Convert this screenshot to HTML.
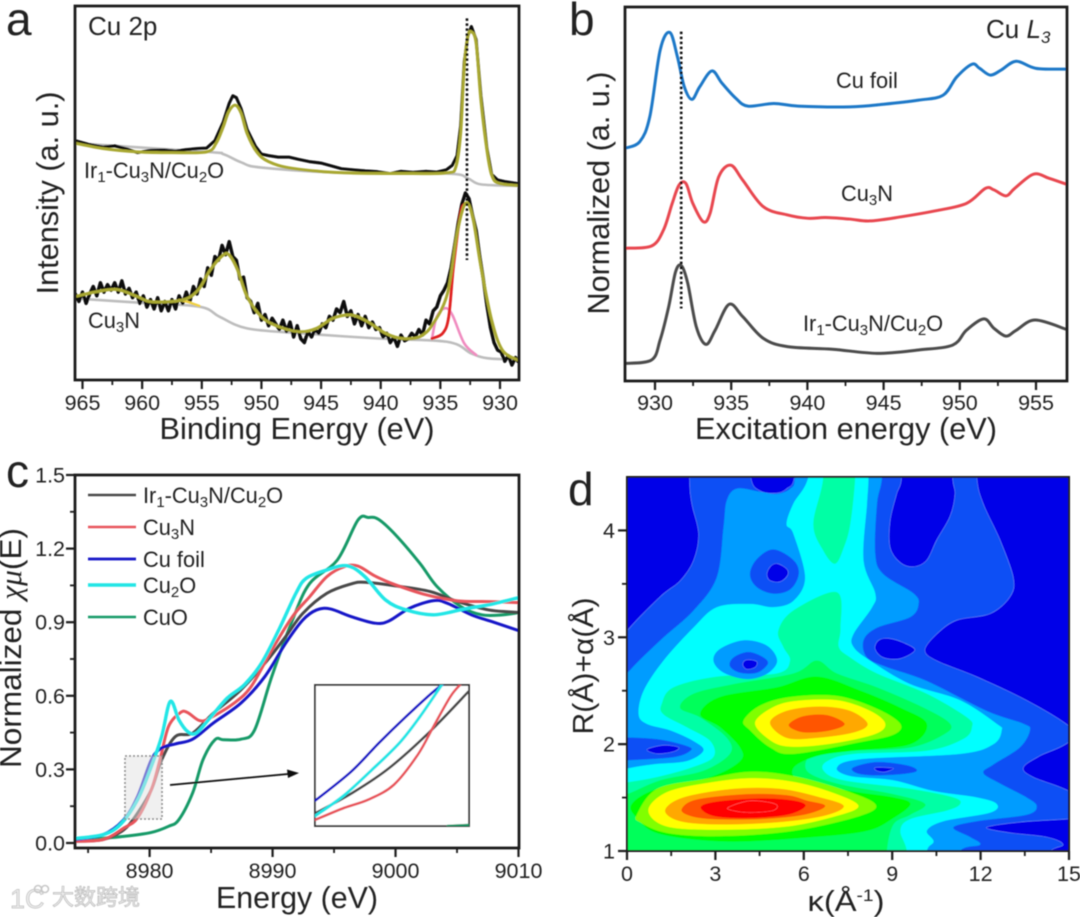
<!DOCTYPE html>
<html lang="en">
<head>
<meta charset="utf-8">
<title>Cu spectroscopy four-panel figure</title>
<style>
html,body{margin:0;padding:0;background:#fff;}
svg{display:block;}
text{font-family:"Liberation Sans","Noto Sans CJK SC",sans-serif;fill:#222;}
.tick{font-size:21.5px;}
.title{font-size:30.5px;}
.note{font-size:21.8px;}
.letter{font-size:46px;}
.greek{font-family:"Liberation Serif",serif;font-style:italic;}
</style>
</head>
<body>
<svg id="fig" width="1080" height="917" viewBox="0 0 1080 917" xmlns="http://www.w3.org/2000/svg">
  <defs>
    <clipPath id="clipA"><rect x="75" y="6" width="444" height="374"/></clipPath>
    <clipPath id="clipB"><rect x="625" y="7" width="442" height="374"/></clipPath>
    <clipPath id="clipC"><rect x="75" y="475" width="444" height="373"/></clipPath>
    <clipPath id="clipInset"><rect x="315" y="685" width="154" height="141"/></clipPath>
    <clipPath id="clipD"><rect x="627" y="477" width="442" height="374"/></clipPath>
    <filter id="soft" x="-2%" y="-2%" width="104%" height="104%"><feGaussianBlur stdDeviation="0.5"/></filter>
  </defs>
  <rect x="0" y="0" width="1080" height="917" fill="#fff"/>
  <g id="root" filter="url(#soft)">
    <g id="panelD"></g>
    <g id="panelA"></g>
    <g id="panelB"></g>
    <g id="panelC"></g>

    <text class="letter" x="6" y="35">a</text>
    <text class="letter" x="569" y="35">b</text>
    <text class="letter" x="6" y="487">c</text>
    <text class="letter" x="568" y="505">d</text>

    <text class="title" x="297" y="439" text-anchor="middle" textLength="275" lengthAdjust="spacingAndGlyphs">Binding Energy (eV)</text>
    <text class="title" transform="translate(58,193) rotate(-90)" text-anchor="middle" textLength="203" lengthAdjust="spacingAndGlyphs">Intensity (a. u.)</text>
    <text x="88" y="35" style="font-size:26px">Cu 2p</text>
    <text class="note" x="84" y="178">Ir<tspan font-size="15" dy="4">1</tspan><tspan dy="-4">-Cu</tspan><tspan font-size="15" dy="4">3</tspan><tspan dy="-4">N/Cu</tspan><tspan font-size="15" dy="4">2</tspan><tspan dy="-4">O</tspan></text>
    <text class="note" x="88" y="328">Cu<tspan font-size="15" dy="4">3</tspan><tspan dy="-4">N</tspan></text>

    <text class="title" x="846" y="439" text-anchor="middle" textLength="302" lengthAdjust="spacingAndGlyphs">Excitation energy (eV)</text>
    <text class="title" transform="translate(609,193) rotate(-90)" text-anchor="middle" textLength="243" lengthAdjust="spacingAndGlyphs">Normalized (a. u.)</text>
    <text x="986" y="38" style="font-size:26px">Cu <tspan font-style="italic">L</tspan><tspan font-size="17" font-style="italic" dy="5">3</tspan></text>
    <text class="note" x="836" y="88">Cu foil</text>
    <text class="note" x="841" y="201">Cu<tspan font-size="15" dy="4">3</tspan><tspan dy="-4">N</tspan></text>
    <text class="note" x="803" y="331">Ir<tspan font-size="15" dy="4">1</tspan><tspan dy="-4">-Cu</tspan><tspan font-size="15" dy="4">3</tspan><tspan dy="-4">N/Cu</tspan><tspan font-size="15" dy="4">2</tspan><tspan dy="-4">O</tspan></text>

    <text class="title" x="297" y="908" text-anchor="middle" textLength="162" lengthAdjust="spacingAndGlyphs">Energy (eV)</text>
    <text class="title" transform="translate(21,648) rotate(-90)" text-anchor="middle" textLength="240" lengthAdjust="spacingAndGlyphs">Normalized <tspan class="greek">χμ</tspan>(E)</text>

    <text class="title" x="846" y="911" text-anchor="middle" textLength="77" lengthAdjust="spacingAndGlyphs" style="font-size:29px">κ(Å<tspan font-size="17" dy="-10">-1</tspan><tspan dy="10">)</tspan></text>
    <text class="title" transform="translate(593,666) rotate(-90)" text-anchor="middle" textLength="137" lengthAdjust="spacingAndGlyphs" style="font-size:29px">R(Å)+α(Å)</text>

    <g>
      <text x="10" y="908" style="font-size:27px;fill:#ececec;stroke:#bdbdbd;stroke-width:.7">1C</text>
      <circle cx="38" cy="889" r="3.5" fill="none" stroke="#c8c8c8" stroke-width="1.6"/>
      <circle cx="45" cy="889" r="3.5" fill="none" stroke="#c8c8c8" stroke-width="1.6"/>
      <text x="52" y="905" style="font-size:22px;fill:#eeeeee;stroke:#b8b8b8;stroke-width:.7">大数跨境</text>
    </g>
  </g>
</svg>
<script>
/* ---------- panel a data: [binding energy eV, intensity a.u.] ---------- */
const aTicksMajor = [965,960,955,950,945,940,935,930];
const aTicksMinor = [962.5,957.5,952.5,947.5,942.5,937.5,932.5];
const aRawTop = [[965.6,64],[964.5,63],[963.3,62.3],[962.3,62.6],[961.2,61.7],[960.4,60.8],[959.3,61.4],[958.2,61.5],[957.2,61.2],[956.3,61.6],[955.3,61.9],[954.6,62],[953.9,64],[953.2,69],[952.7,74],[952.4,76],[952.1,75.5],[951.7,72.5],[951.2,67],[950.5,62.5],[950,60.4],[949.4,60],[948.6,59.6],[947.7,59.6],[946.9,59],[946,58.4],[945,58],[944.2,57.3],[943.3,56.5],[942.3,56.2],[941.3,55.9],[940.3,55.7],[939.2,55.2],[938.3,55.8],[937.3,55.5],[936.2,55.8],[935.3,55.6],[934.5,56.2],[934,57.4],[933.6,60],[933.3,68],[933,85],[932.7,92],[932.4,94.5],[932,91],[931.6,76],[931.1,62],[930.7,55],[930.2,53.5],[929.5,53],[928.5,52.5]];
const aFitTop = [[965.6,63.3],[963.3,61.9],[960.4,61],[957.5,60.8],[954.6,61],[953.8,63.3],[953.2,67.7],[952.75,71.7],[952.2,73.5],[951.7,71.3],[951.2,65.9],[950.4,61],[949.4,58.4],[947.4,56.6],[943.1,55.4],[937.3,55.2],[934.4,55.4],[933.7,57],[933.3,65.9],[933,83.8],[932.7,91.8],[932.4,93.1],[932,90],[931.6,74.8],[931.1,61.5],[930.7,54.8],[930.1,52.6],[928.5,52]];
const aBaseTop = [[965.6,63.3],[954.6,61],[953.2,60.4],[951.7,58.2],[950,56.8],[943.1,55.4],[934.4,55.2],[932.7,53.9],[931.6,52.3],[928.5,51.9]];
const aRawBottom = [[965.6,23],[965.3,21],[965,23.5],[964.7,20.5],[964.4,23],[964.1,25],[963.8,22.5],[963.5,26],[963.2,23.5],[962.9,25.5],[962.6,24],[962.3,26],[962,23.5],[961.7,26.5],[961.4,23],[961.1,24.5],[960.8,22],[960.5,23.5],[960.2,20.5],[959.9,22.5],[959.6,19.5],[959.3,21.5],[959,19],[958.7,22],[958.4,18.5],[958.1,21],[957.8,18.5],[957.5,21.5],[957.2,19],[956.9,22.5],[956.6,20.5],[956.3,23.5],[956,21],[955.7,25],[955.4,23],[955.1,27],[954.8,25],[954.5,30],[954.2,28],[953.9,33],[953.6,32],[953.3,36],[953,33.5],[952.7,37],[952.4,33],[952.1,32],[951.8,27],[951.5,27.5],[951.2,22],[950.9,21],[950.6,18],[950.3,20.5],[950,16],[949.7,17.5],[949.4,14.5],[949.1,16.5],[948.8,15],[948.5,13.5],[948.2,16],[947.9,13],[947.6,15.5],[947.3,11.5],[947,14.5],[946.7,11],[946.4,10],[946.1,13],[945.8,11.5],[945.5,13.5],[945.2,12.5],[944.9,15],[944.6,14],[944.3,17],[944,16],[943.7,19],[943.4,18],[943.1,21],[942.8,17],[942.5,18.5],[942.2,15],[941.9,17.5],[941.6,14.5],[941.3,17],[941,14],[940.7,15.5],[940.4,13.5],[940.1,14],[939.8,11.5],[939.5,12.5],[939.2,10],[938.9,11.5],[938.6,9],[938.3,12],[938,10.5],[937.7,11],[937.4,12.5],[937.1,11.5],[936.8,13.5],[936.5,12],[936.2,16],[935.9,15],[935.6,18.5],[935.3,19.5],[935,22.5],[934.7,24],[934.4,26],[934.1,30],[933.8,36],[933.5,42],[933.2,47],[932.9,50],[932.6,48.5],[932.3,44],[932,40],[931.7,33],[931.4,27],[931.1,20],[930.8,14],[930.5,10],[930.2,8],[929.9,7.5],[929.6,5],[929.3,6.5],[929,4],[928.7,6],[928.5,5]];
const aFitBottom = [[965.6,22.3],[963.85,23.6],[962.1,24.2],[960.4,22.3],[959.2,20.9],[956.6,21.4],[955.3,24.1],[954.3,29.4],[953.2,33.4],[952.7,33.4],[952,29.4],[951.2,22.3],[950,16.9],[948.6,14.3],[946.8,12.9],[945.4,13.8],[944,16.5],[942.5,17.4],[941.1,15.6],[939.6,12.5],[938.2,11.1],[936.7,11.6],[935.6,15.1],[934.4,23.2],[933.6,39.2],[932.9,47.2],[932.3,43.7],[931.6,30.3],[930.7,16],[929.8,8],[928.5,5.3]];
const aBaseBottom = [[965.6,21.8],[960.4,20.7],[955.2,19.6],[953.5,16.9],[951.2,13.8],[946.8,12.5],[940.2,11.1],[934.4,10.2],[932.4,7.1],[931,5.8],[928.5,5.5]];
const aPeakRed = [[935.7,11.1],[934.8,12.5],[934.3,16.9],[933.9,30.3],[933.3,44.6],[932.9,47.2]];
const aPeakPink = [[935.7,11.1],[935.3,16.9],[934.6,19.2],[934,17.4],[933,9.8],[932,6.7]];
const aPeakGold = [[956.9,21.4],[956.2,20.9],[955.2,19.8]];
const aDotted = [[932.77,96.7],[932.77,32.1]];

/* ---------- panel b data: [excitation energy eV, normalized a.u.] ---------- */
const bTicksMajor = [930,935,940,945,950,955];
const bTicksMinor = [932.5,937.5,942.5,947.5,952.5];
const bFoil = [[928,62.2],[929,64],[929.66,70.7],[930.34,88.5],[930.97,93.2],[931.47,86.7],[931.92,78.7],[932.42,75.3],[932.94,78.7],[933.73,82.9],[934.4,79.6],[935.3,75.6],[936.1,73.5],[937.8,74.2],[939.4,73.5],[942.8,73.3],[945,74],[947.3,75.1],[948.9,76.4],[949.8,81.3],[950.8,84.7],[951.3,83.6],[952,81.8],[952.7,83.1],[953.7,85.5],[955,83.6],[957,83.4]];
const bCu3N = [[928,35.5],[929.77,36.1],[930.56,40.4],[931.13,47.5],[931.58,52.4],[932.03,52.8],[932.48,47.5],[933.16,42.6],[933.61,44.8],[934.18,54.6],[934.97,57.7],[935.76,53.7],[937.11,46.6],[938.69,44.4],[940.05,43.5],[941.18,43.7],[942.76,43.3],[944.11,42.8],[946.15,43.9],[948.4,45.5],[950.44,47.5],[951.68,51.5],[952.24,51.1],[953.03,49.5],[953.6,51.5],[954.84,55.3],[955.86,54.2],[957,52.6]];
const bIr = [[928,4.7],[929.77,5.6],[930.34,11],[930.9,19.9],[931.35,29.2],[931.74,30.8],[932.15,26.1],[932.71,14.5],[933.34,9.8],[933.95,13.6],[934.86,20.5],[935.76,17.2],[937.11,11.4],[938.69,9.2],[941.63,8.5],[944.57,7.4],[947.28,8.3],[949.53,9.6],[950.44,13.6],[951.57,16.6],[952.24,14.1],[953.03,12],[953.71,13.6],[954.95,16.3],[957,13.8]];
const bDotted = [[931.72,93.4],[931.72,19.4]];

/* ---------- panel c data: energies and normalized absorption ---------- */
const cTicksX = [8980,8990,9000,9010];
const cTicksXMinor = [8975,8985,8995,9005];
const cTicksY = [0,0.3,0.6,0.9,1.2,1.5];
const cTicksYMinor = [0.15,0.45,0.75,1.05,1.35];
const cIrX = [8973.92,8976.22,8977.9,8979.02,8980.14,8980.98,8982.1,8983.5,8985.18,8987.42,8989.38,8991.06,8992.46,8994.42,8996.38,8997.5,9000.02,9002.82,9005.06,9007.58,9010];
const cIrY = [.007,.014,.054,.122,.217,.339,.434,.448,.529,.624,.733,.841,.936,1.018,1.056,1.063,1.048,1.025,.984,.95,.94];
const cCu3NX = [8973.92,8976.22,8977.9,8979.02,8980.14,8980.84,8981.54,8982.52,8983.08,8984.06,8984.9,8986.86,8988.26,8989.94,8991.62,8993.02,8994.42,8995.82,8996.94,8998.34,9000.02,9002.54,9005.06,9007.58,9010];
const cCu3NY = [.007,.014,.061,.102,.217,.339,.475,.532,.532,.499,.509,.57,.638,.787,.923,1.004,1.086,1.126,1.129,1.088,1.052,1.011,.987,.984,.98];
const cFoilX = [8973.92,8976.22,8977.9,8979.02,8980.14,8980.98,8982.1,8983.5,8985.18,8987.42,8989.38,8991.06,8992.46,8993.58,8994.7,8996.38,8998.34,8999.46,9001.14,9003.1,9004.22,9006.18,9007.86,9010];
const cFoilY = [.014,.034,.095,.19,.339,.387,.404,.423,.489,.57,.679,.814,.909,.95,.954,.923,.896,.905,.957,.988,.977,.93,.902,.866];
const cCu2OX = [8973.92,8976.22,8977.62,8979.02,8980.14,8980.98,8981.68,8982.38,8983.08,8983.78,8984.9,8986.3,8987.7,8989.1,8990.5,8991.9,8992.74,8994.42,8996.1,8997.5,8999.18,9000.86,9003.1,9005.62,9007.86,9010];
const cCu2OY = [.018,.034,.075,.176,.312,.434,.577,.502,.455,.448,.509,.59,.645,.733,.868,1.018,1.079,1.113,1.13,1.086,.991,.95,.93,.954,.974,1.0];
const cCuOX = [8973.92,8977.9,8980.14,8981.54,8982.38,8983.5,8984.34,8985.32,8986.02,8987.42,8988.54,8989.94,8991.62,8993.02,8995.26,8996.94,8997.78,8998.62,9000.02,9001.98,9003.38,9005.34,9007.02,9008.7,9010];
const cCuOY = [.01,.027,.043,.068,.095,.204,.339,.421,.421,.423,.461,.679,.909,1.058,1.153,1.316,1.327,1.319,1.255,1.14,1.045,.963,.93,.93,.939];
const cLegendNames = ['ir','cu3n','cu-foil','cu2o','cuo'];
const cLegendColors = ['#4a4a4a','#e8555c','#1414c8','#22e6e6','#159a68'];

const insetFoil = [[8978,.144],[8978.72,.197],[8979.27,.249],[8979.81,.297],[8980.36,.343],[8980.57,.357]];
const insetCu2O = [[8978,.116],[8978.58,.154],[8979.13,.2],[8979.68,.249],[8980.09,.297],[8980.54,.357]];
const insetIr = [[8978,.121],[8978.72,.157],[8979.47,.203],[8980.29,.27],[8981.06,.343]];
const insetCu3N = [[8978,.109],[8978.58,.131],[8979.06,.146],[8979.57,.173],[8980.05,.228],[8980.36,.279],[8980.7,.334],[8980.91,.357]];
const insetCuO = [[8980.64,.098],[8981.06,.1]];

/* ---------- panel d data: contour outlines in [kappa, R] ---------- */
const dTicksX = [0,3,6,9,12,15];
const dTicksXMinor = [1.5,4.5,7.5,10.5,13.5];
const dTicksY = [1,2,3,4];
const dTicksYMinor = [1.5,2.5,3.5];
const levelColors = ['#0000e8','#0a50f5','#009cff','#00ffff','#00ffa5','#00ff5a','#00ff00','#80ff00','#ffff00','#ffa800','#ff5500','#ff0000'];
const dark1 = [[-1,5.2],[2.1,5.2],[2.12,4.5],[2.2,4.25],[2.43,3.97],[2.26,3.72],[1.81,3.53],[1.13,3.38],[0,3.06],[-1,2.7]];
const dark2 = [[4.15,5],[4.2,4.5],[4.52,4.37],[5.09,4.35],[5.42,4.39],[5.68,4.5],[5.75,5]];
const dark3 = [[9.35,5],[9.32,4.5],[9.15,4.34],[8.93,4.09],[8.93,3.84],[9.27,3.70],[9.72,3.66],[10.17,3.72],[10.51,3.91],[10.96,4.13],[11.13,4.34],[11.05,4.5],[11,5]];
const dark4 = [[11.85,5],[11.87,4.5],[12.09,4.25],[12.66,3.91],[13.11,3.56],[13,3.38],[12.32,3.22],[11.19,3.16],[10.51,3.03],[10.11,2.88],[10.51,2.78],[11.87,2.63],[13.56,2.41],[15,2.17],[16,1.9],[16,5.2]];
const dark5 = [[16,2.3],[15,2.02],[14.01,1.89],[13.45,1.78],[13.79,1.69],[15,1.56],[16,1.35]];
const dark6 = [[16,1.32],[15,1.3],[13.33,1.27],[12.2,1.22],[13,1.17],[14.24,1.13],[14.8,1.06],[14.35,.98],[14.6,.7],[16,.7]];
const light2Outer = [[0,2.66],[1.13,2.97],[2.26,3.25],[3.05,3.56],[3.28,4.03],[3.39,4.28],[3.73,4.39],[4.52,4.36],[5.09,4.34],[5.54,4.39],[5.71,4.5],[5.75,5],[8.7,5],[8.65,4.5],[8.48,4.25],[8.42,3.78],[8.7,3.59],[9.72,3.41],[9.89,3.31],[9.61,3.19],[8.48,3.09],[8.02,2.97],[8.14,2.81],[8.81,2.72],[10.17,2.59],[12.2,2.31],[13.45,2.19],[13.67,2.13],[13.33,1.97],[12.43,1.81],[12.09,1.73],[12.66,1.63],[13.56,1.5],[13.9,1.42],[13.56,1.34],[11.87,1.28],[11.07,1.22],[11.64,1.13],[11.98,1.06],[11.3,1],[11,.7],[-1,.7],[-1,2.3]];
const holeLeft = [[-1,2.05],[0,2.06],[1.13,2.04],[2.03,1.98],[2.15,1.94],[1.58,1.88],[0,1.85],[-1,1.83]];
const holeLeftCore = [[.68,1.95],[1.24,1.99],[1.75,1.97],[1.58,1.93],[1.02,1.91]];
const ring5 = [[4.97,3.82],[5.65,3.72],[5.82,3.59],[5.54,3.45],[4.97,3.41],[4.41,3.47],[4.18,3.59],[4.41,3.73]];
const ring5Core = [[5.09,3.69],[5.42,3.64],[5.45,3.58],[5.2,3.52],[4.86,3.53],[4.75,3.59],[4.86,3.66]];
const spot9Core = [[8.87,2.99],[9.38,2.95],[9.77,2.88],[9.27,2.8],[8.7,2.81],[8.42,2.89],[8.53,2.97]];
const cyanOuter = [[.4,2.28],[.57,2.5],[1.24,2.78],[2.26,3.09],[3.05,3.28],[4.18,3.31],[4.97,3.28],[5.65,3.34],[6.05,3.56],[5.65,3.97],[5.42,4.06],[5.65,4.25],[6.16,4.5],[6.3,5],[8.2,5],[8.19,4.5],[8.14,4.25],[8.02,3.72],[8.42,3.41],[8.31,3.28],[7.68,3.03],[7.68,2.91],[8.25,2.78],[9.61,2.56],[11.3,2.41],[12.54,2.19],[12.71,2.13],[12.43,2],[11.3,1.91],[7.91,1.86],[7.12,1.78],[7.57,1.7],[9.04,1.66],[10.4,1.56],[11.87,1.5],[12.54,1.44],[12.32,1.36],[10.74,1.28],[10.17,1.19],[10.4,1.09],[10.17,1],[10.1,.7],[-1,.7],[-1,1.7],[0,1.77],[.9,1.81],[2.03,1.84],[2.6,1.94],[2.26,2.03],[1.47,2.13],[.68,2.19]];
const ring4Light = [[3.96,2.97],[4.75,2.92],[5.09,2.78],[4.75,2.66],[4.07,2.61],[3.28,2.67],[2.94,2.78],[3.16,2.89]];
const ring4Mid = [[4.12,2.86],[4.63,2.81],[4.77,2.75],[4.41,2.67],[3.84,2.67],[3.5,2.73],[3.62,2.81]];
const ring4Core = [[4.16,2.79],[4.41,2.77],[4.35,2.72],[4.07,2.7],[3.93,2.74],[3.99,2.78]];
const lensMid = [[7.68,1.78],[8.48,1.83],[9.49,1.8],[9.83,1.75],[9.27,1.72],[8.36,1.71],[7.8,1.73]];
const lensCore = [[8.42,1.78],[8.87,1.78],[9.04,1.77],[8.76,1.74],[8.48,1.75]];
const springTop = [[6.6,5],[6.67,4.5],[6.33,4.06],[6.67,3.81],[7.06,3.69],[7.35,3.84],[7.57,4.06],[7.74,4.5],[7.8,5]];
const springMain = [[1.19,2.38],[1.58,2.53],[3.05,2.63],[5.09,2.66],[5.54,2.78],[5.31,2.91],[5.14,3.06],[5.65,3.25],[7.12,3.42],[7.24,3.09],[7.18,2.91],[7.57,2.81],[8.48,2.66],[10.17,2.47],[11.53,2.25],[11.7,2.16],[11.41,2.05],[10.17,1.94],[7.68,1.91],[6.78,1.84],[6.67,1.75],[7.35,1.66],[9.61,1.58],[11.07,1.5],[11.3,1.44],[10.85,1.38],[9.61,1.3],[9.27,1.19],[9.49,1],[9.5,.7],[-1,.7],[-1,1.6],[0,1.64],[1.02,1.69],[2.2,1.78],[2.94,1.88],[2.83,2.03],[2.03,2.16],[1.24,2.28]];
const mintMain = [[1.81,2.34],[2.26,2.47],[3.62,2.56],[5.65,2.66],[6.44,2.78],[7.12,2.66],[8.48,2.53],[10.06,2.34],[10.96,2.19],[10.74,2.09],[9.61,1.97],[7.68,1.94],[6.33,1.91],[6.1,1.75],[7.12,1.63],[9.04,1.53],[10.11,1.44],[9.61,1.34],[9.04,1.25],[8.81,1],[8.8,.7],[-1,.7],[-1,1.45],[0,1.53],[1.13,1.66],[2.6,1.75],[3.5,1.91],[3.39,2.06],[2.49,2.25]];
const greenMain = [[2.49,2.28],[3.16,2.44],[5.09,2.53],[6.44,2.63],[7.91,2.5],[9.27,2.34],[10.17,2.19],[9.61,2],[7.68,1.94],[6.44,1.89],[5.65,1.78],[5.88,1.66],[7.57,1.56],[9.04,1.5],[9.61,1.44],[9.04,1.31],[8.14,1.19],[6.22,1.13],[3.39,1.09],[1.13,1.16],[.34,1.31],[.17,1.44],[1.02,1.58],[2.83,1.69],[3.84,1.84],[3.84,1.97],[3.16,2.16]];
const limeUpper = [[3.96,2.22],[4.52,2.36],[5.54,2.44],[7.12,2.45],[8.48,2.33],[9.27,2.19],[9.04,2.09],[7.91,2.02],[5.65,1.91],[4.86,1.97],[4.18,2.13]];
const limeLower = [[.34,1.34],[1.02,1.58],[2.6,1.67],[4.18,1.74],[5.65,1.7],[7.24,1.58],[8.42,1.44],[7.91,1.33],[5.65,1.19],[3.16,1.14],[1.36,1.17],[.45,1.27]];
const yellowUpper = [[4.35,2.2],[4.86,2.33],[5.65,2.4],[7.12,2.41],[8.25,2.31],[8.76,2.19],[8.36,2.09],[6.78,2],[5.42,1.98],[4.75,2.06]];
const yellowLower = [[.73,1.38],[1.36,1.55],[2.83,1.64],[4.29,1.68],[5.76,1.64],[7.12,1.53],[7.85,1.42],[7.12,1.33],[5.42,1.23],[3.16,1.2],[1.36,1.23]];
const orangeUpper = [[4.86,2.2],[5.42,2.31],[6.55,2.35],[7.57,2.31],[8.16,2.19],[7.68,2.11],[6.44,2.06],[5.42,2.06]];
const orangeLower = [[1.3,1.38],[1.92,1.5],[3.62,1.58],[5.2,1.58],[6.55,1.5],[7.35,1.42],[6.67,1.33],[5.09,1.27],[3.16,1.25],[1.81,1.28]];
const hotUpper = [[5.51,2.19],[5.99,2.26],[6.78,2.27],[7.38,2.19],[6.89,2.13],[6.1,2.11],[5.65,2.14]];
const hotLower = [[1.86,1.39],[2.37,1.48],[4.07,1.53],[5.42,1.52],[6.1,1.47],[6.72,1.42],[5.99,1.34],[4.52,1.3],[2.94,1.3],[2.15,1.33]];
const redLower = [[2.51,1.41],[3.05,1.46],[4.52,1.49],[5.65,1.47],[6.05,1.42],[5.42,1.34],[4.07,1.31],[2.94,1.33]];
const peakCenter = [[3.45,1.41],[4.18,1.47],[5.03,1.44],[4.97,1.38],[4.18,1.36],[3.56,1.38]];
const paintOrder = [
  ['dark-1',0,dark1],['dark-2',0,dark2],['dark-3',0,dark3],['dark-4',0,dark4],['dark-5',0,dark5],['dark-6',0,dark6],
  ['band-light-blue',2,light2Outer],['hole-left',1,holeLeft],['hole-left-core',0,holeLeftCore],
  ['ring-upper',1,ring5],['ring-upper-core',0,ring5Core],['spot-right-core',0,spot9Core],
  ['band-cyan',3,cyanOuter],['lens',1,lensMid],['lens-core',0,lensCore],
  ['spring-top',4,springTop],['band-spring',4,springMain],
  ['ring-mid-light',2,ring4Light],['ring-mid',1,ring4Mid],['ring-mid-core',0,ring4Core],
  ['band-mint',5,mintMain],['band-green',6,greenMain],
  ['lime-upper',7,limeUpper],['lime-lower',7,limeLower],
  ['yellow-upper',8,yellowUpper],['yellow-lower',8,yellowLower],
  ['orange-upper',9,orangeUpper],['orange-lower',9,orangeLower],
  ['hot-upper',10,hotUpper],['hot-lower',10,hotLower],['red-lower',11,redLower],['peak-center',11,peakCenter]
];

/* ---------- helpers ---------- */
const NS = 'http://www.w3.org/2000/svg';
function make(parent, tag, attrs, name) {
  const el = document.createElementNS(NS, tag);
  for (const k in attrs) el.setAttribute(k, attrs[k]);
  
  
  parent.appendChild(el);
  return el;
}
function linear(d, r) {
  return v => r[0] + (v - d[0]) * (r[1] - r[0]) / (d[1] - d[0]);
}
function toPts(data, sx, sy) { return data.map(p => [sx(p[0]), sy(p[1])]); }
function zip(xs, ys) { return xs.map((x, i) => [x, ys[i]]); }
function straight(pts) { return 'M' + pts.map(p => p[0].toFixed(2) + ' ' + p[1].toFixed(2)).join('L'); }
function smooth(pts, closed) {
  const n = pts.length;
  const at = i => closed ? pts[(i + n) % n] : pts[Math.max(0, Math.min(n - 1, i))];
  let d = 'M' + pts[0][0].toFixed(2) + ' ' + pts[0][1].toFixed(2);
  const end = closed ? n : n - 1;
  for (let i = 0; i < end; i++) {
    const p0 = at(i - 1), p1 = at(i), p2 = at(i + 1), p3 = at(i + 2);
    const c1x = p1[0] + (p2[0] - p0[0]) / 6, c1y = p1[1] + (p2[1] - p0[1]) / 6;
    const c2x = p2[0] - (p3[0] - p1[0]) / 6, c2y = p2[1] - (p3[1] - p1[1]) / 6;
    d += 'C' + c1x.toFixed(2) + ' ' + c1y.toFixed(2) + ' ' + c2x.toFixed(2) + ' ' + c2y.toFixed(2) + ' ' + p2[0].toFixed(2) + ' ' + p2[1].toFixed(2);
  }
  return d + (closed ? 'Z' : '');
}
function xAxisTicks(g, ticks, minor, sx, y0, labelY, fmt, prefix) {
  ticks.forEach(t => {
    make(g, 'line', {x1: sx(t), x2: sx(t), y1: y0, y2: y0 + 9, stroke: '#1a1a1a', 'stroke-width': 2.2}, prefix + '-x-tick');
    const lab = make(g, 'text', {x: sx(t), y: labelY, 'text-anchor': 'middle', class: 'tick'}, prefix + '-x-tick-label');
    lab.textContent = fmt(t);
  });
  minor.forEach(t => {
    make(g, 'line', {x1: sx(t), x2: sx(t), y1: y0, y2: y0 + 5, stroke: '#1a1a1a', 'stroke-width': 1.8}, prefix + '-x-minor-tick');
  });
}
function yAxisTicks(g, ticks, minor, sy, x0, labelX, fmt, prefix) {
  ticks.forEach(t => {
    make(g, 'line', {x1: x0, x2: x0 - 9, y1: sy(t), y2: sy(t), stroke: '#1a1a1a', 'stroke-width': 2.2}, prefix + '-y-tick');
    const lab = make(g, 'text', {x: labelX, y: sy(t) + 7.5, 'text-anchor': 'end', class: 'tick'}, prefix + '-y-tick-label');
    lab.textContent = fmt(t);
  });
  minor.forEach(t => {
    make(g, 'line', {x1: x0, x2: x0 - 5, y1: sy(t), y2: sy(t), stroke: '#1a1a1a', 'stroke-width': 1.8}, prefix + '-y-minor-tick');
  });
}
function drawLine(g, data, sx, sy, color, width, name, useSmooth) {
  const pts = toPts(data, sx, sy);
  return make(g, 'path', {d: useSmooth ? smooth(pts, false) : straight(pts), fill: 'none', stroke: color, 'stroke-width': width, 'stroke-linejoin': 'round', 'stroke-linecap': 'round'}, name);
}

/* ---------- panel a ---------- */
(function () {
  const root = document.getElementById('panelA');
  const x = linear([965, 930], [82.5, 500]);
  const y = linear([0, 100], [380, 6]);
  const g = make(root, 'g', {'clip-path': 'url(#clipA)'}, 'panel-a-plot-area');
  drawLine(g, aBaseTop, x, y, '#bdbdbd', 2.6, 'top-background-line', true);
  drawLine(g, aBaseBottom, x, y, '#bdbdbd', 2.6, 'bottom-background-line', true);
  drawLine(g, aRawTop, x, y, '#0a0a0a', 3, 'top-raw-spectrum', false);
  drawLine(g, aRawBottom, x, y, '#0a0a0a', 3.4, 'bottom-raw-spectrum', false);
  drawLine(g, aPeakGold, x, y, '#f0d040', 2.4, 'bottom-satellite-peak', true);
  drawLine(g, aPeakPink, x, y, '#f08cc0', 2.6, 'bottom-pink-peak', true);
  drawLine(g, aPeakRed, x, y, '#e02020', 2.8, 'bottom-red-peak', true);
  drawLine(g, aFitTop, x, y, '#a9a832', 3, 'top-fit-envelope', true);
  drawLine(g, aFitBottom, x, y, '#a9a832', 3, 'bottom-fit-envelope', true);
  const dotted = drawLine(g, aDotted, x, y, '#111', 2.6, 'peak-reference-dotted-line', false);
  dotted.setAttribute('stroke-dasharray', '2.5 2.5');
  dotted.setAttribute('stroke-linecap', 'butt');
  make(root, 'rect', {x: 75, y: 6, width: 444, height: 374, fill: 'none', stroke: '#1a1a1a', 'stroke-width': 2.8}, 'panel-a-frame');
  xAxisTicks(root, aTicksMajor, aTicksMinor, x, 380, 410, String, 'panel-a');
})();

/* ---------- panel b ---------- */
(function () {
  const root = document.getElementById('panelB');
  const x = linear([930, 955], [655, 1036]);
  const y = linear([0, 100], [381, 7]);
  const g = make(root, 'g', {'clip-path': 'url(#clipB)'}, 'panel-b-plot-area');
  drawLine(g, bFoil, x, y, '#1f78c8', 3, 'cu-foil-spectrum', true);
  drawLine(g, bCu3N, x, y, '#e8474f', 3, 'cu3n-spectrum', true);
  drawLine(g, bIr, x, y, '#4b4b4b', 3, 'ir-cu3n-cu2o-spectrum', true);
  const d = drawLine(g, bDotted, x, y, '#111', 2.6, 'l3-reference-dotted-line', false);
  d.setAttribute('stroke-dasharray', '2.5 2.5');
  d.setAttribute('stroke-linecap', 'butt');
  make(root, 'rect', {x: 625, y: 7, width: 442, height: 374, fill: 'none', stroke: '#1a1a1a', 'stroke-width': 2.8}, 'panel-b-frame');
  xAxisTicks(root, bTicksMajor, bTicksMinor, x, 381, 410, String, 'panel-b');
})();

/* ---------- panel c ---------- */
(function () {
  const root = document.getElementById('panelC');
  const x = linear([8980, 9010], [149.6, 518.5]);
  const y = linear([0, 1.5], [843, 475]);
  const g = make(root, 'g', {'clip-path': 'url(#clipC)'}, 'panel-c-plot-area');
  drawLine(g, zip(cCuOX, cCuOY), x, y, cLegendColors[4], 3, 'cuo-curve', true);
  drawLine(g, zip(cIrX, cIrY), x, y, cLegendColors[0], 3, 'ir-cu3n-cu2o-curve', true);
  drawLine(g, zip(cCu3NX, cCu3NY), x, y, cLegendColors[1], 3, 'cu3n-curve', true);
  drawLine(g, zip(cFoilX, cFoilY), x, y, cLegendColors[2], 3, 'cu-foil-curve', true);
  drawLine(g, zip(cCu2OX, cCu2OY), x, y, cLegendColors[3], 3.4, 'cu2o-curve', true);
  make(root, 'rect', {x: 125, y: 756, width: 37, height: 63, fill: 'rgba(226,226,226,.5)', stroke: '#8a8a8a', 'stroke-width': 1.6, 'stroke-dasharray': '2 2'}, 'zoom-region-box');
  make(root, 'line', {x1: 170, y1: 785, x2: 288, y2: 774, stroke: '#111', 'stroke-width': 1.8}, 'zoom-arrow-shaft');
  make(root, 'path', {d: 'M299 773L287 769.5L288 778Z', fill: '#111'}, 'zoom-arrow-head');

  make(root, 'rect', {x: 315, y: 685, width: 154, height: 141, fill: '#fff', stroke: '#333', 'stroke-width': 1.8}, 'inset-frame');
  const ix = linear([8978, 8981.06], [315, 468.5]);
  const iy = linear([0.098, 0.355], [826, 685]);
  const ig = make(root, 'g', {'clip-path': 'url(#clipInset)'}, 'inset-plot-area');
  drawLine(ig, insetCuO, ix, iy, cLegendColors[4], 2.4, 'inset-cuo-curve', false);
  drawLine(ig, insetIr, ix, iy, cLegendColors[0], 2.6, 'inset-ir-cu3n-cu2o-curve', true);
  drawLine(ig, insetCu3N, ix, iy, cLegendColors[1], 2.6, 'inset-cu3n-curve', true);
  drawLine(ig, insetFoil, ix, iy, cLegendColors[2], 2.6, 'inset-cu-foil-curve', true);
  drawLine(ig, insetCu2O, ix, iy, cLegendColors[3], 3, 'inset-cu2o-curve', true);

  make(root, 'rect', {x: 75, y: 475, width: 444, height: 373, fill: 'none', stroke: '#1a1a1a', 'stroke-width': 2.8}, 'panel-c-frame');
  xAxisTicks(root, cTicksX, cTicksXMinor, x, 848, 878, String, 'panel-c');
  yAxisTicks(root, cTicksY, cTicksYMinor, y, 75, 65, v => v.toFixed(1), 'panel-c');

  const legendY = [495, 527, 559, 585, 617];
  const legendWidths = [2.6, 2.6, 2.8, 3.4, 2.6];
  cLegendNames.forEach((n, i) => {
    make(root, 'line', {x1: 88, x2: 136, y1: legendY[i], y2: legendY[i], stroke: cLegendColors[i], 'stroke-width': legendWidths[i]}, 'legend-line-' + n);
  });
  const lab = make(root, 'g', {class: 'note'}, 'panel-c-legend-labels');
  lab.innerHTML =
    '<text class="note" x="143" y="503">Ir<tspan font-size="15" dy="4">1</tspan><tspan dy="-4">-Cu</tspan><tspan font-size="15" dy="4">3</tspan><tspan dy="-4">N/Cu</tspan><tspan font-size="15" dy="4">2</tspan><tspan dy="-4">O</tspan></text>' +
    '<text class="note" x="143" y="535">Cu<tspan font-size="15" dy="4">3</tspan><tspan dy="-4">N</tspan></text>' +
    '<text class="note" x="143" y="567">Cu foil</text>' +
    '<text class="note" x="143" y="593">Cu<tspan font-size="15" dy="4">2</tspan><tspan dy="-4">O</tspan></text>' +
    '<text class="note" x="143" y="625">CuO</text>';
})();

/* ---------- panel d ---------- */
(function () {
  const root = document.getElementById('panelD');
  const x = linear([0, 15], [627, 1069]);
  const y = linear([1, 4.5], [851, 477]);
  const g = make(root, 'g', {'clip-path': 'url(#clipD)'}, 'panel-d-contour-map');
  make(g, 'rect', {x: 627, y: 477, width: 442, height: 374, fill: levelColors[1]}, 'contour-base');
  paintOrder.forEach(item => {
    const lvl = item[1];
    const pts = toPts(item[2], x, y);
    const outlined = item[0] === 'peak-center' || lvl === 0;
    make(g, 'path', {d: smooth(pts, true), fill: levelColors[lvl], stroke: outlined ? 'rgba(255,255,255,.35)' : levelColors[lvl], 'stroke-width': outlined ? 0.6 : 0.4}, 'contour-' + item[0]);
  });
  make(root, 'rect', {x: 627, y: 477, width: 442, height: 374, fill: 'none', stroke: '#1a1a1a', 'stroke-width': 2}, 'panel-d-frame');
  xAxisTicks(root, dTicksX, dTicksXMinor, x, 851, 881, String, 'panel-d');
  yAxisTicks(root, dTicksY, dTicksYMinor, y, 627, 615, String, 'panel-d');
})();
</script>
</body>
</html>
